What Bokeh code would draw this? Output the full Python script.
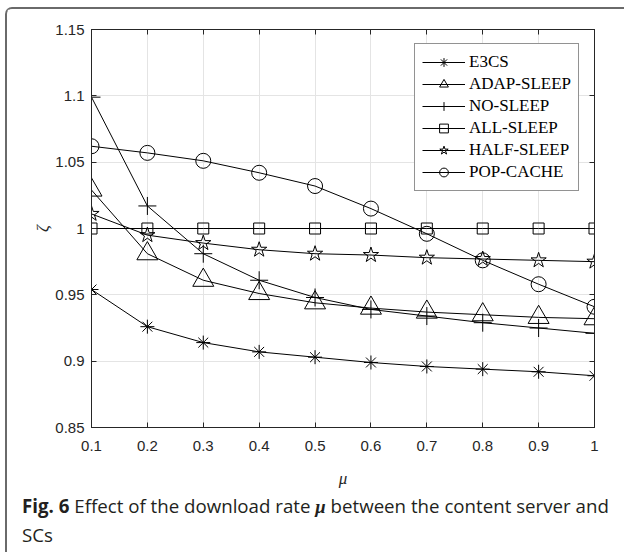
from bokeh.plotting import figure
from bokeh.models import FixedTicker, LinearAxis, Range1d, Legend, LegendItem, Div
from bokeh.layouts import column
from bokeh.embed import file_html
from bokeh.resources import INLINE

mu = [0.1, 0.2, 0.3, 0.4, 0.5, 0.6, 0.7, 0.8, 0.9, 1.0]
e3cs = [0.954, 0.926, 0.914, 0.907, 0.903, 0.899, 0.896, 0.894, 0.892, 0.889]
adap_sleep = [1.029, 0.981, 0.961, 0.951, 0.944, 0.940, 0.937, 0.935, 0.933, 0.932]
no_sleep = [1.099, 1.017, 0.981, 0.961, 0.948, 0.939, 0.934, 0.929, 0.925, 0.921]
all_sleep = [1.0, 1.0, 1.0, 1.0, 1.0, 1.0, 1.0, 1.0, 1.0, 1.0]
half_sleep = [1.011, 0.995, 0.989, 0.984, 0.981, 0.980, 0.978, 0.977, 0.976, 0.975]
pop_cache = [1.062, 1.057, 1.051, 1.042, 1.032, 1.015, 0.996, 0.976, 0.958, 0.941]

series_names = ["E3CS", "ADAP-SLEEP", "NO-SLEEP", "ALL-SLEEP", "HALF-SLEEP", "POP-CACHE"]
x_ticks = [0.1, 0.2, 0.3, 0.4, 0.5, 0.6, 0.7, 0.8, 0.9, 1.0]
x_tick_labels = ["0.1", "0.2", "0.3", "0.4", "0.5", "0.6", "0.7", "0.8", "0.9", "1"]
y_ticks = [0.85, 0.9, 0.95, 1.0, 1.05, 1.1, 1.15]
y_tick_labels = ["0.85", "0.9", "0.95", "1", "1.05", "1.1", "1.15"]

INK = "#262626"
GRID = "#e4e4e4"

p = figure(frame_width=503, frame_height=398,
           min_border_left=84, min_border_right=30, min_border_top=20, min_border_bottom=66,
           x_range=Range1d(0.1, 1.0), y_range=Range1d(0.85, 1.15),
           output_backend="svg", toolbar_location=None)
p.background_fill_color = "white"
p.border_fill_color = "white"
p.outline_line_color = INK

for ax in (p.xaxis[0], p.yaxis[0]):
    ax.major_tick_in = 5
    ax.major_tick_out = 0
    ax.minor_tick_line_color = None
    ax.axis_line_color = INK
    ax.major_tick_line_color = INK
    ax.major_label_text_font = "Liberation Sans"
    ax.major_label_text_font_size = "15px"
    ax.major_label_text_color = INK
    ax.axis_label_text_font = "Liberation Serif"
    ax.axis_label_text_font_style = "italic"
    ax.axis_label_text_font_size = "17px"
    ax.axis_label_text_color = INK

p.xaxis.ticker = FixedTicker(ticks=x_ticks)
p.yaxis.ticker = FixedTicker(ticks=y_ticks)
p.xaxis.major_label_overrides = {t: l for t, l in zip(x_ticks, x_tick_labels)}
p.yaxis.major_label_overrides = {t: l for t, l in zip(y_ticks, y_tick_labels)}
p.xaxis.major_label_standoff = 13
p.yaxis.major_label_standoff = 7
p.xaxis.axis_label = "μ"
p.yaxis.axis_label = "ζ"
p.xaxis.axis_label_standoff = 15
p.yaxis.axis_label_standoff = 0

for loc, tk in (("above", x_ticks), ("right", y_ticks)):
    ax = LinearAxis(ticker=FixedTicker(ticks=tk), major_tick_in=5, major_tick_out=0,
                    minor_tick_line_color=None, axis_line_color=INK,
                    major_tick_line_color=INK, major_label_text_font_size="0px",
                    major_label_standoff=0)
    p.add_layout(ax, loc)

p.xgrid.ticker = FixedTicker(ticks=x_ticks)
p.ygrid.ticker = FixedTicker(ticks=y_ticks)
p.xgrid.grid_line_color = GRID
p.ygrid.grid_line_color = GRID

styles = [
    (e3cs, "asterisk", 14),
    (adap_sleep, "triangle", 21),
    (no_sleep, "cross", 18),
    (all_sleep, "square", 11),
    (half_sleep, "star", 16),
    (pop_cache, "circle", 15),
]

items = []
for name, (vals, marker, size) in zip(series_names, styles):
    lr = p.line(mu, vals, line_color="black", line_width=1)
    sr = p.scatter(mu, vals, marker=marker, size=size, line_color="black",
                   fill_color=None, line_width=1)
    items.append(LegendItem(label=name, renderers=[lr, sr]))

legend = Legend(items=items, location=(323, 236))
legend.label_text_font = "Liberation Serif"
legend.label_text_font_size = "17px"
legend.label_text_color = "black"
legend.glyph_width = 43
legend.glyph_height = 22
legend.label_height = 22
legend.spacing = 0
legend.padding = 7
legend.margin = 0
legend.label_standoff = 4
legend.border_line_color = INK
legend.border_line_width = 1
legend.background_fill_color = "white"
legend.background_fill_alpha = 1
p.add_layout(legend)

caption_html = (
    '<div style="position:relative; top:-6px; padding-left:10px; font-family:\'Open Sans\'; '
    'font-size:18.7px; line-height:28px; color:#231f20; white-space:nowrap;">'
    '<b>Fig. 6</b> Effect of the download rate '
    '<i style="font-family:\'Liberation Serif\'; font-weight:bold;">μ</i> '
    'between the content server and<br>SCs</div>'
)
caption = Div(text=caption_html, width=610, height=52)

page = column(p, caption, styles={
    "margin-left": "5px", "margin-top": "7px",
    "border-left": "2px solid #6a6a6a", "border-top": "2px solid #6a6a6a",
    "border-top-left-radius": "7px", "background-color": "white",
})

open("out.html", "w").write(file_html(page, INLINE))
